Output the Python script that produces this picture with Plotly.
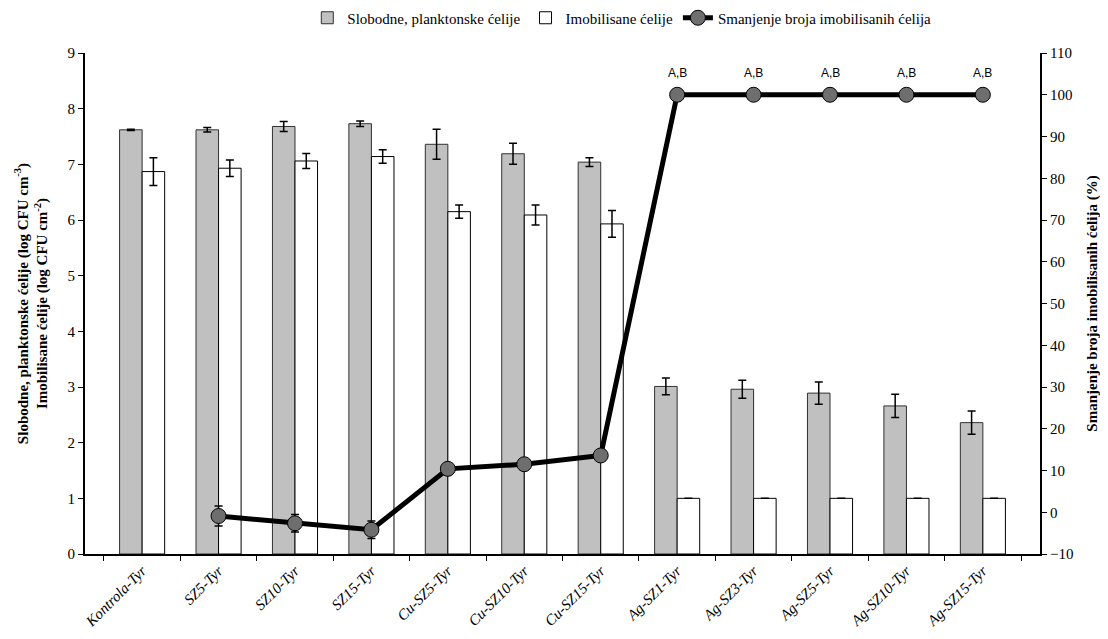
import plotly.graph_objects as go

categories = ["Kontrola-Tyr", "SZ5-Tyr", "SZ10-Tyr", "SZ15-Tyr", "Cu-SZ5-Tyr", "Cu-SZ10-Tyr",
              "Cu-SZ15-Tyr", "Ag-SZ1-Tyr", "Ag-SZ3-Tyr", "Ag-SZ5-Tyr", "Ag-SZ10-Tyr", "Ag-SZ15-Tyr"]

free_cells = [7.62, 7.62, 7.68, 7.73, 7.36, 7.19, 7.04, 3.01, 2.96, 2.89, 2.66, 2.36]
free_err = [0.01, 0.04, 0.09, 0.05, 0.27, 0.19, 0.08, 0.15, 0.16, 0.20, 0.21, 0.21]

immob_cells = [6.87, 6.93, 7.06, 7.14, 6.15, 6.09, 5.93, 1.0, 1.0, 1.0, 1.0, 1.0]
immob_err = [0.25, 0.15, 0.135, 0.12, 0.12, 0.18, 0.24, 0, 0, 0, 0, 0]

reduction = [None, -0.9, -2.65, -4.2, 10.4, 11.5, 13.6, 100, 100, 100, 100, 100]
reduction_err = [0, 2.4, 2.1, 2.1, 0, 0, 0, 0, 0, 0, 0, 0]

ab_labels = ["", "", "", "", "", "", "", "A,B", "A,B", "A,B", "A,B", "A,B"]

serif = "Liberation Serif, Times New Roman, serif"

fig = go.Figure()
fig.add_trace(go.Bar(
    x=categories, y=free_cells, name="Slobodne, planktonske ćelije",
    marker=dict(color="#C0C0C0", line=dict(color="#303030", width=1)),
    error_y=dict(type="data", array=free_err, color="black", thickness=1.5, width=4),
))
fig.add_trace(go.Bar(
    x=categories, y=immob_cells, name="Imobilisane ćelije",
    marker=dict(color="white", line=dict(color="black", width=1)),
    error_y=dict(type="data", array=immob_err, color="black", thickness=1.5, width=4),
))
fig.add_trace(go.Scatter(
    x=categories, y=reduction, name="Smanjenje broja imobilisanih ćelija",
    yaxis="y2", mode="lines+markers",
    line=dict(color="black", width=5),
    marker=dict(color="#6E6E6E", size=15, line=dict(color="black", width=1)),
    error_y=dict(type="data", array=reduction_err, color="black", thickness=1.5, width=4),
    connectgaps=False,
))

for c, v, t in zip(categories, reduction, ab_labels):
    if t:
        fig.add_annotation(x=c, y=v, yref="y2", text=t, showarrow=False, yshift=22,
                           font=dict(family="Liberation Sans", size=12, color="black"))

fig.update_layout(
    width=1100, height=631,
    paper_bgcolor="white", plot_bgcolor="white",
    margin=dict(l=77, r=68, t=45, b=85, autoexpand=False),
    barmode="group", bargap=0.41, bargroupgap=0,
    font=dict(family=serif, size=15, color="black"),
    legend=dict(orientation="h", x=0.558, xanchor="center", xref="container",
                y=1 - 10 / 631, yanchor="middle", yref="container",
                font=dict(family=serif, size=15), bgcolor="rgba(0,0,0,0)", itemwidth=30,
                traceorder="normal", tracegroupgap=0),
    xaxis=dict(
        type="category", showline=True, linecolor="black", linewidth=2,
        ticks="outside", tickson="boundaries", ticklen=5, tickcolor="black",
        tickangle=-45, tickfont=dict(family=serif, size=15, style="italic"),
        showgrid=False, mirror=False, automargin=False,
    ),
    yaxis=dict(
        range=[0, 9], dtick=1, showline=True, linecolor="black", linewidth=2,
        ticks="outside", ticklen=5, tickcolor="black", showgrid=False, zeroline=False,
        tickfont=dict(family=serif, size=15), automargin=False,
        title=dict(text="<b>Slobodne, planktonske ćelije (log CFU cm<sup>-3</sup>)<br>"
                        "Imobilisane ćelije (log CFU cm<sup>-2</sup>)</b>",
                   font=dict(family=serif, size=15), standoff=16),
    ),
    yaxis2=dict(
        range=[-10, 110], dtick=10, overlaying="y", side="right",
        showline=True, linecolor="black", linewidth=2,
        ticks="outside", ticklen=5, tickcolor="black", showgrid=False, zeroline=False,
        tickfont=dict(family=serif, size=15), automargin=False,
        title=dict(text="<b>Smanjenje broja imobilisanih ćelija (%)</b>",
                   font=dict(family=serif, size=15), standoff=14),
    ),
)

fig.write_html("out.html")
